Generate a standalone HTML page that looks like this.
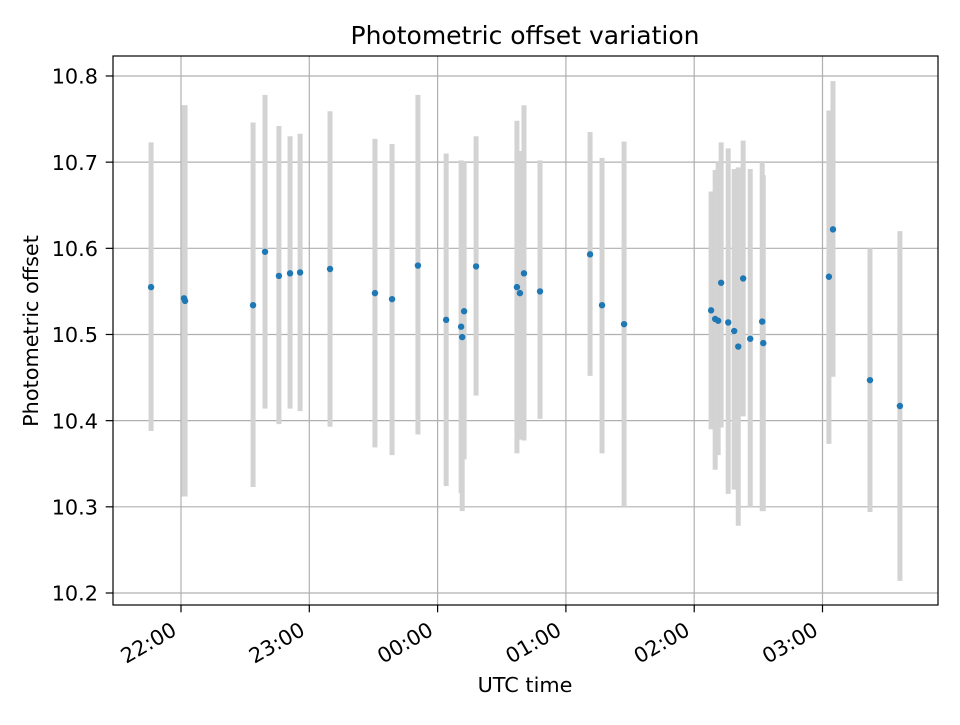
<!DOCTYPE html>
<html><head><meta charset="utf-8"><style>
body{margin:0;background:#fff;}
svg text{font-family:"DejaVu Sans","Liberation Sans",sans-serif;fill:#000;}
</style></head><body>
<svg id="chart" width="960" height="720" xmlns="http://www.w3.org/2000/svg">
<rect width="960" height="720" fill="#fff"/>
<g id="grid"></g><g id="bars"></g><g id="pts"></g><g id="axes"></g>
<text x="525" y="44" font-size="25" text-anchor="middle">Photometric offset variation</text>
<text x="525" y="692" font-size="20.8" text-anchor="middle">UTC time</text>
<text transform="translate(38,331) rotate(-90)" font-size="20.8" text-anchor="middle">Photometric offset</text>
</svg>
<script>
// minutes after 22:00 UTC
const times=[-14.0,1.4,1.9,33.7,39.3,45.8,51.0,55.7,69.7,90.7,98.7,110.8,124.0,131.0,131.5,132.4,138.0,157.1,158.5,160.4,167.9,191.3,196.9,207.2,247.9,249.8,251.2,252.6,255.9,258.7,260.6,262.9,266.2,271.8,272.3,303.0,304.9,322.2,336.2];
const offsets=[10.555,10.542,10.539,10.534,10.596,10.568,10.571,10.572,10.576,10.548,10.541,10.580,10.517,10.509,10.497,10.527,10.579,10.555,10.548,10.571,10.550,10.593,10.534,10.512,10.528,10.518,10.516,10.560,10.514,10.504,10.486,10.565,10.495,10.515,10.490,10.567,10.622,10.447,10.417];
const lows=[10.388,10.312,10.312,10.323,10.414,10.396,10.414,10.411,10.393,10.369,10.360,10.384,10.324,10.316,10.295,10.355,10.429,10.362,10.378,10.377,10.402,10.452,10.362,10.300,10.390,10.343,10.360,10.392,10.315,10.320,10.278,10.405,10.300,10.295,10.295,10.373,10.451,10.294,10.214];
const highs=[10.723,10.766,10.766,10.746,10.778,10.742,10.730,10.733,10.759,10.727,10.721,10.778,10.710,10.702,10.700,10.700,10.730,10.748,10.713,10.766,10.702,10.735,10.705,10.724,10.666,10.691,10.700,10.723,10.716,10.692,10.694,10.725,10.692,10.700,10.685,10.760,10.794,10.600,10.620];
const yTicks=[10.2,10.3,10.4,10.5,10.6,10.7,10.8];
const xTickMin=[0,60,120,180,240,300];
const xTickLabels=["22:00","23:00","00:00","01:00","02:00","03:00"];
const L=113,R=938,T=56,B=605;
const xs=m=>181+m*128.3/60;
const ys=v=>593-(v-10.2)*861.7;
const NS="http://www.w3.org/2000/svg";
function mk(p,tag,at){const e=document.createElementNS(NS,tag);for(const k in at)e.setAttribute(k,at[k]);document.getElementById(p).appendChild(e);return e;}
yTicks.forEach(v=>{const y=ys(v);
 const g=mk('grid','line',{x1:L,x2:R,y1:y,y2:y,stroke:'#b0b0b0','stroke-width':1.2});
 
 
 mk('axes','line',{x1:L-7.3,x2:L,y1:y,y2:y,stroke:'#000','stroke-width':1.2});
 const t=mk('axes','text',{x:98,y:y+7.6,'font-size':20.8,'text-anchor':'end'});t.textContent=v.toFixed(1);
 
 
});
xTickMin.forEach((m,i)=>{const x=xs(m);
 const g=mk('grid','line',{x1:x,x2:x,y1:T,y2:B,stroke:'#b0b0b0','stroke-width':1.2});
 
 
 mk('axes','line',{x1:x,x2:x,y1:B,y2:B+7.3,stroke:'#000','stroke-width':1.2});
 const t=mk('axes','text',{transform:`translate(${x-3},${B+29}) rotate(-30)`,'font-size':20.8,'text-anchor':'end'});t.textContent=xTickLabels[i];
 
 
});
const fr=mk('axes','rect',{x:L,y:T,width:R-L,height:B-T,fill:'none',stroke:'#000','stroke-width':1.2});


times.forEach((m,i)=>{const x=xs(m);
 const b=mk('bars','line',{x1:x,x2:x,y1:ys(lows[i]),y2:ys(highs[i]),stroke:'#d3d3d3','stroke-width':5});
 
 
 const c=mk('pts','circle',{cx:x,cy:ys(offsets[i]),r:3.2,fill:'#1f77b4'});
 
 
});
</script>
</body></html>
